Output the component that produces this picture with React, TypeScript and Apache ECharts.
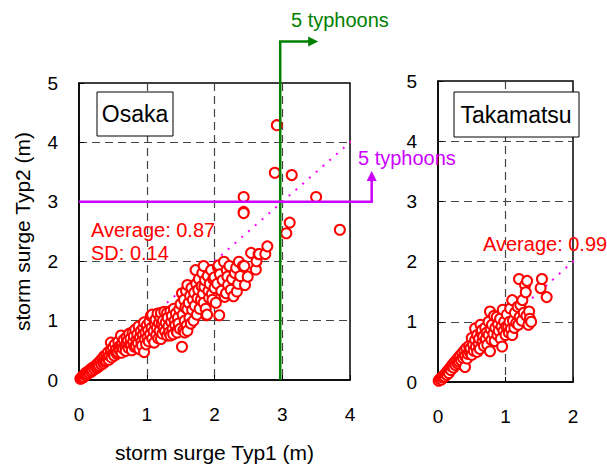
import React, { useEffect, useRef } from "react";
import * as echarts from "echarts";

const FONT = "'Liberation Sans', Arial, sans-serif";

const osakaTicksX = [0, 1, 2, 3, 4];
const takamatsuTicksX = [0, 1, 2];
const yTicks = [0, 1, 2, 3, 4, 5];

const osakaPoints: [number, number][] = [
  [0.02,0.02],[0.04,0.03],[0.05,0.06],[0.07,0.05],[0.08,0.09],[0.1,0.08],[0.1,0.12],[0.12,0.1],[0.13,0.14],[0.15,0.12],
  [0.16,0.17],[0.18,0.14],[0.19,0.2],[0.2,0.16],[0.22,0.22],[0.23,0.18],[0.25,0.24],[0.26,0.2],[0.27,0.27],[0.28,0.22],
  [0.3,0.3],[0.3,0.24],[0.32,0.33],[0.33,0.26],[0.35,0.36],[0.36,0.28],[0.37,0.4],[0.38,0.31],[0.4,0.42],[0.4,0.33],
  [0.42,0.37],[0.43,0.47],[0.44,0.34],[0.45,0.41],[0.47,0.5],[0.47,0.63],[0.48,0.38],[0.5,0.45],[0.5,0.55],[0.52,0.41],
  [0.53,0.6],[0.54,0.48],[0.55,0.52],[0.56,0.44],[0.57,0.47],[0.58,0.65],[0.59,0.56],[0.6,0.5],
  [0.62,0.75],[0.62,0.58],[0.63,0.46],[0.64,0.62],[0.65,0.53],[0.66,0.68],[0.68,0.57],[0.69,0.49],[0.7,0.72],[0.7,0.62],
  [0.72,0.66],[0.73,0.54],[0.74,0.78],[0.75,0.6],[0.76,0.7],[0.77,0.58],[0.78,0.5],[0.79,0.8],[0.8,0.65],[0.81,0.74],
  [0.82,0.56],[0.83,0.85],[0.84,0.58],[0.85,0.68],[0.86,0.77],[0.87,0.62],[0.88,0.9],[0.89,0.52],[0.9,0.72],[0.91,0.82],
  [0.92,0.64],[0.93,0.58],[0.94,0.76],[0.95,0.88],[0.96,0.47],[0.96,0.97],[0.97,0.69],[0.98,0.8],[0.99,0.6],
  [1.0,0.92],[1.01,0.72],[1.02,0.84],[1.03,0.65],[1.04,0.98],[1.05,0.77],[1.06,1.08],[1.07,0.88],[1.08,0.7],[1.08,1.1],
  [1.1,0.82],[1.11,0.63],[1.12,0.95],[1.13,1.02],[1.14,0.76],[1.15,0.88],[1.16,1.12],[1.17,0.7],[1.18,0.96],[1.19,0.83],
  [1.2,1.05],[1.21,0.69],[1.21,1.13],[1.22,0.94],[1.23,0.78],[1.24,1.0],[1.25,0.88],[1.26,1.15],[1.27,0.82],[1.28,0.97],
  [1.3,1.13],[1.3,0.75],[1.31,1.05],[1.32,0.9],[1.33,0.8],[1.35,1.16],[1.35,0.75],[1.36,0.98],[1.37,1.08],[1.38,0.86],
  [1.39,0.77],[1.4,1.2],[1.41,1.0],[1.42,0.92],[1.43,1.12],[1.44,0.82],[1.45,0.8],[1.46,1.05],[1.47,0.95],[1.48,1.19],[1.49,0.86],
  [1.5,1.28],[1.52,0.56],[1.52,1.46],[1.53,1.1],[1.54,0.84],[1.55,1.35],[1.56,1.0],[1.56,0.8],[1.57,1.22],[1.58,1.5],
  [1.59,0.92],[1.6,1.6],[1.6,1.19],[1.6,0.83],[1.62,1.3],[1.63,1.05],[1.64,1.42],[1.65,0.95],[1.66,1.55],[1.67,1.18],
  [1.68,1.35],[1.69,1.0],[1.7,1.47],[1.71,1.25],[1.72,1.85],[1.73,1.62],[1.74,1.1],[1.75,1.38],[1.76,1.52],[1.77,1.7],
  [1.78,1.2],[1.8,1.35],[1.81,1.58],[1.82,1.8],[1.83,1.45],[1.84,1.92],[1.84,1.3],[1.85,1.57],[1.86,1.68],[1.87,1.2],
  [1.88,1.09],[1.89,1.1],[1.9,1.75],[1.91,1.5],[1.92,1.38],[1.93,1.62],[1.95,1.85],[1.96,1.45],[1.97,1.35],[1.98,1.7],
  [2.0,1.73],[2.0,1.55],[2.02,1.3],[2.04,1.62],[2.05,1.9],[2.06,1.93],[2.07,1.09],[2.08,1.78],[2.1,1.5],[2.12,1.68],
  [2.14,1.99],[2.15,1.4],[2.17,1.46],[2.18,1.85],[2.19,1.74],[2.2,1.6],[2.22,1.92],[2.24,1.52],[2.26,1.7],[2.28,1.41],
  [2.3,1.8],[2.32,1.89],[2.33,1.49],[2.35,1.62],[2.36,1.99],[2.38,1.75],[2.42,1.92],[2.44,1.92],[2.45,1.6],[2.49,1.74],
  [2.54,2.14],[2.61,1.86],[2.62,2.0],[2.65,2.12],[2.66,2.12],[2.75,2.12],[2.78,2.25],
  [2.43,2.83],[2.43,2.81],[2.43,3.08],[2.89,3.49],[2.92,4.29],[3.14,3.45],[3.5,3.08],[3.11,2.65],[3.06,2.47],[3.85,2.53],
];

const takamatsuPoints: [number, number][] = [
  [0.01,0.02],[0.03,0.05],[0.05,0.04],[0.06,0.08],[0.08,0.1],[0.1,0.09],[0.11,0.14],[0.13,0.12],[0.14,0.18],[0.16,0.15],
  [0.17,0.22],[0.19,0.2],[0.2,0.26],[0.21,0.28],[0.23,0.24],[0.24,0.32],[0.26,0.28],[0.27,0.36],[0.29,0.31],[0.3,0.4],
  [0.31,0.34],[0.33,0.44],[0.34,0.36],[0.36,0.48],[0.37,0.4],[0.39,0.52],[0.4,0.25],[0.4,0.43],[0.42,0.56],[0.43,0.39],
  [0.44,0.47],[0.46,0.6],[0.47,0.5],[0.48,0.56],[0.5,0.73],[0.5,0.45],[0.52,0.62],[0.53,0.52],[0.55,0.89],[0.55,0.7],
  [0.56,0.58],[0.58,0.5],[0.58,0.78],[0.6,0.64],[0.61,0.72],[0.62,0.55],[0.63,0.95],[0.64,0.82],[0.65,0.86],[0.66,0.68],
  [0.67,0.76],[0.68,0.6],[0.7,0.9],[0.71,0.72],[0.72,0.82],[0.73,0.62],[0.75,1.0],[0.75,0.78],[0.77,0.51],[0.77,1.17],
  [0.78,0.88],[0.79,0.7],[0.8,0.95],[0.82,0.8],[0.83,1.1],[0.84,0.68],[0.85,0.9],[0.87,1.08],[0.88,0.78],[0.89,0.96],
  [0.9,0.85],[0.92,1.05],[0.93,0.72],[0.94,0.92],[0.95,0.59],[0.96,1.2],[0.97,0.85],[0.98,1.0],[1.0,0.78],[1.01,0.92],
  [1.02,1.12],[1.04,0.92],[1.05,0.82],[1.06,1.0],[1.07,1.22],[1.08,0.88],[1.1,0.78],[1.1,1.36],[1.11,1.02],[1.13,0.9],
  [1.14,1.15],[1.16,0.98],[1.18,1.25],[1.19,0.95],[1.2,1.71],[1.21,1.08],[1.22,1.28],[1.24,1.02],[1.25,1.36],[1.27,1.15],
  [1.29,1.61],[1.3,1.49],[1.31,1.1],[1.32,1.68],[1.34,0.95],[1.35,1.17],[1.36,1.05],[1.38,1.0],[1.52,1.56],[1.54,1.71],[1.61,1.41],
];

const osakaRefLine: [number, number][] = [[0, 0], [4.1, 4.1]];
const takamatsuRefLine: [number, number][] = [[0, 0], [2.1, 2.1]];
// threshold annotation paths (data units of the Osaka panel); last entry = arrow tip
const greenPath: [number, number][] = [[2.97, 0], [2.97, 5.7], [3.45, 5.7]];
const greenTip: [number, number] = [3.53, 5.7];
const magentaPath: [number, number][] = [[0, 3], [4.32, 3], [4.32, 3.42]];
const magentaTip: [number, number] = [4.32, 3.52];

const axisTextStyle = { fontFamily: FONT, fontSize: 19, color: "#000" };
const splitStyle = {
  show: true,
  showMinLine: false,
  showMaxLine: false,
  lineStyle: { color: "#444", type: [8, 5], width: 1.2 },
};

function makeX(idx: number, max: number, ticks: number[], withName: boolean) {
  return {
    type: "value",
    gridIndex: idx,
    min: ticks[0],
    max,
    interval: 1,
    name: withName ? "storm surge Typ1 (m)" : "",
    nameLocation: "middle",
    nameGap: 62,
    nameTextStyle: { fontFamily: FONT, fontSize: 21, color: "#000" },
    axisLine: { show: true, onZero: false, lineStyle: { color: "#000", width: 1.5 } },
    axisTick: { show: true, inside: true, length: 5, lineStyle: { color: "#000" } },
    axisLabel: { ...axisTextStyle, margin: 25 },
    splitLine: splitStyle,
  };
}

function makeY(idx: number, withName: boolean) {
  return {
    type: "value",
    gridIndex: idx,
    min: yTicks[0],
    max: yTicks[yTicks.length - 1],
    interval: 1,
    name: withName ? "storm surge Typ2 (m)" : "",
    nameLocation: "middle",
    nameGap: 46,
    nameRotate: 90,
    nameTextStyle: { fontFamily: FONT, fontSize: 21, color: "#000" },
    axisLine: { show: true, onZero: false, lineStyle: { color: "#000", width: 1.5 } },
    axisTick: { show: true, inside: true, length: 5, lineStyle: { color: "#000" } },
    axisLabel: { ...axisTextStyle, margin: 21 },
    splitLine: splitStyle,
  };
}

const scatterStyle = {
  type: "scatter",
  symbol: "circle",
  symbolSize: 10,
  itemStyle: { color: "#fff", borderColor: "#ff0000", borderWidth: 2, opacity: 1 },
  z: 3,
};

function textEl(text: string, x: number, y: number, size: number, fill: string, align = "left") {
  return {
    type: "text",
    x,
    y,
    style: { text, fontFamily: FONT, fontSize: size, fill, align, verticalAlign: "middle" },
    z: 11,
  };
}

export default function App() {
  const ref = useRef<HTMLDivElement>(null);
  useEffect(() => {
    if (!ref.current) return;
    const chart = echarts.init(ref.current, undefined, { renderer: "svg" });
    chart.setOption({
      animation: false,
      backgroundColor: "#fff",
      grid: [
        { left: 79, top: 83, width: 271, height: 302, show: true, borderColor: "#000", borderWidth: 1.5, backgroundColor: "transparent" },
        { left: 438, top: 81, width: 135, height: 301, show: true, borderColor: "#000", borderWidth: 1.5, backgroundColor: "transparent" },
      ],
      xAxis: [makeX(0, 4, osakaTicksX, true), makeX(1, 2, takamatsuTicksX, false)],
      yAxis: [makeY(0, true), makeY(1, false)],
      series: [
        {
          type: "line",
          xAxisIndex: 0,
          yAxisIndex: 0,
          data: osakaRefLine,
          symbol: "none",
          clip: false,
          lineStyle: { color: "#ff00ff", width: 2, type: [2, 7] },
          z: 2,
        },
        {
          type: "line",
          xAxisIndex: 1,
          yAxisIndex: 1,
          data: takamatsuRefLine,
          symbol: "none",
          clip: false,
          lineStyle: { color: "#ff00ff", width: 2, type: [2, 7] },
          z: 2,
        },
        { ...scatterStyle, xAxisIndex: 0, yAxisIndex: 0, data: osakaPoints },
        { ...scatterStyle, xAxisIndex: 1, yAxisIndex: 1, data: takamatsuPoints },
      ],
    });

    const px = (p: [number, number]) => chart.convertToPixel({ gridIndex: 0 }, p) as number[];
    const gPts = greenPath.map(px);
    const gTip = px(greenTip);
    const mPts = magentaPath.map(px);
    const mTip = px(magentaTip);

    chart.setOption({
      graphic: [
        {
          type: "polyline",
          shape: { points: gPts },
          style: { stroke: "#008000", lineWidth: 2.5, fill: "none" },
          z: 8,
        },
        {
          type: "polygon",
          shape: { points: [gTip, [gTip[0] - 10, gTip[1] - 5], [gTip[0] - 10, gTip[1] + 5]] },
          style: { fill: "#008000" },
          z: 8,
        },
        {
          type: "polyline",
          shape: { points: mPts },
          style: { stroke: "#cc00ff", lineWidth: 2.5, fill: "none" },
          z: 8,
        },
        {
          type: "polygon",
          shape: { points: [mTip, [mTip[0] - 5, mTip[1] + 10], [mTip[0] + 5, mTip[1] + 10]] },
          style: { fill: "#cc00ff" },
          z: 8,
        },
        {
          type: "rect",
          shape: { x: 97, y: 92, width: 76, height: 44 },
          style: { fill: "#fff", stroke: "#000", lineWidth: 1 },
          z: 10,
        },
        textEl("Osaka", 135, 114, 23, "#000", "center"),
        {
          type: "rect",
          shape: { x: 454, y: 92, width: 125, height: 45 },
          style: { fill: "#fff", stroke: "#000", lineWidth: 1 },
          z: 10,
        },
        textEl("Takamatsu", 516, 115, 23, "#000", "center"),
        textEl("Average: 0.87", 91, 230, 20, "#ff0000"),
        textEl("SD: 0.14", 91, 253, 20, "#ff0000"),
        textEl("Average: 0.99", 483, 244, 20, "#ff0000"),
        textEl("5 typhoons", 291, 20, 20, "#008000"),
        textEl("5 typhoons", 358, 158, 20, "#cc00ff"),
      ],
    });
    return () => chart.dispose();
  }, []);
  return (
    <div
      ref={ref}
      style={{ position: "fixed", left: 0, top: 0, width: 607, height: 468, background: "#fff" }}
    />
  );
}
